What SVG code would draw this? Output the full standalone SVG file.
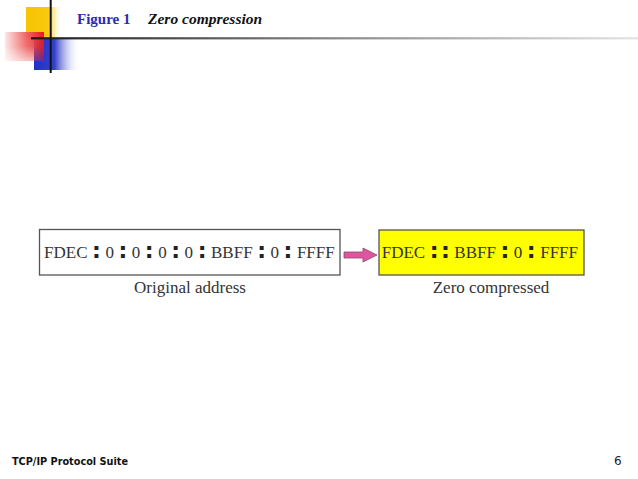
<svg xmlns="http://www.w3.org/2000/svg" width="638" height="479" viewBox="0 0 638 479">
<defs>
<linearGradient id="gy" x1="0" y1="0" x2="1" y2="0"><stop offset="0" stop-color="#f7c400"/><stop offset="0.6" stop-color="#f8c810"/><stop offset="1" stop-color="#fff" stop-opacity="0"/></linearGradient>
<linearGradient id="gr" x1="1" y1="0" x2="0" y2="0"><stop offset="0" stop-color="#e3191e"/><stop offset="0.45" stop-color="#ef6262"/><stop offset="1" stop-color="#fde6e6"/></linearGradient>
<linearGradient id="gv" x1="0" y1="0" x2="0" y2="1"><stop offset="0" stop-color="#fff" stop-opacity="1"/><stop offset="0.5" stop-color="#fff" stop-opacity="0.9"/><stop offset="1" stop-color="#fff" stop-opacity="0.35"/></linearGradient>
<mask id="mr" maskContentUnits="objectBoundingBox"><rect x="0" y="0" width="1" height="1" fill="url(#gv)"/></mask>
<linearGradient id="gb" x1="0" y1="0" x2="1" y2="0"><stop offset="0" stop-color="#2430c8"/><stop offset="0.45" stop-color="#3440cc"/><stop offset="1" stop-color="#fff" stop-opacity="0"/></linearGradient>
<linearGradient id="gl" x1="0" y1="0" x2="1" y2="0"><stop offset="0" stop-color="#1a1a1a"/><stop offset="0.5" stop-color="#888"/><stop offset="1" stop-color="#e4e4e4"/></linearGradient>
<style>
.t{font-family:"Liberation Serif",serif;font-size:17px;fill:#333;text-anchor:middle}
.c{font-family:"DejaVu Sans",sans-serif;font-weight:bold;font-size:22px;fill:#222}
.lbl{font-family:"Liberation Serif",serif;font-size:17px;fill:#333;text-anchor:middle}
.box{stroke:#555;stroke-width:1.3}
</style>
</defs>
<g id="logo">
<rect x="26" y="7" width="37" height="31" fill="url(#gy)"/>
<rect x="34" y="38" width="46" height="32" fill="url(#gb)"/>
<rect x="5" y="32" width="39" height="29" fill="url(#gr)" mask="url(#mr)"/>
<rect x="31" y="37.2" width="607" height="2.2" fill="url(#gl)"/>
<rect x="49.7" y="0" width="2" height="73" fill="#111"/>
</g>
<g id="title">
<text x="77" y="24" font-family="Liberation Serif, serif" font-weight="bold" font-size="15" fill="#2b2bb0">Figure 1</text>
<text x="148" y="24" font-family="Liberation Serif, serif" font-weight="bold" font-style="italic" font-size="15.5" fill="#111">Zero compression</text>
</g>
<g id="original">
<rect class="box" x="39.5" y="229.5" width="300.5" height="45.5" fill="#fff"/>
<text class="t" y="257.5"><tspan x="65.75">FDEC</tspan><tspan class="c" x="96.45">:</tspan><tspan x="109.65">0</tspan><tspan class="c" x="122.85">:</tspan><tspan x="136.05">0</tspan><tspan class="c" x="149.25">:</tspan><tspan x="162.45">0</tspan><tspan class="c" x="175.65">:</tspan><tspan x="188.85">0</tspan><tspan class="c" x="202.05">:</tspan><tspan x="231.8">BBFF</tspan><tspan class="c" x="261.55">:</tspan><tspan x="274.75">0</tspan><tspan class="c" x="287.95">:</tspan><tspan x="315.8">FFFF</tspan></text>
<text class="lbl" x="190" y="293">Original address</text>
</g>
<g id="connectors">
<path d="M344,252 H363 V248 L377,255 L363,262 V258 H344 Z" fill="#e0559f" stroke="#8a4a6a" stroke-width="0.8"/>
</g>
<g id="compressed">
<rect class="box" x="379" y="230" width="205" height="45" fill="#ffff00"/>
<text class="t" y="257.5"><tspan x="403.45">FDEC</tspan><tspan class="c" x="434.15">:</tspan><tspan class="c" x="445.35">:</tspan><tspan x="475.1">BBFF</tspan><tspan class="c" x="504.85">:</tspan><tspan x="518.05">0</tspan><tspan class="c" x="531.25">:</tspan><tspan x="559.1">FFFF</tspan></text>
<text class="lbl" x="491" y="293">Zero compressed</text>
</g>
<g id="footer">
<text x="12" y="464.5" font-family="DejaVu Sans, sans-serif" font-weight="bold" font-size="11" fill="#111" textLength="116" lengthAdjust="spacingAndGlyphs">TCP/IP Protocol Suite</text>
<text x="614" y="464.5" font-family="DejaVu Sans, sans-serif" font-size="12" fill="#222">6</text>
</g>
</svg>
